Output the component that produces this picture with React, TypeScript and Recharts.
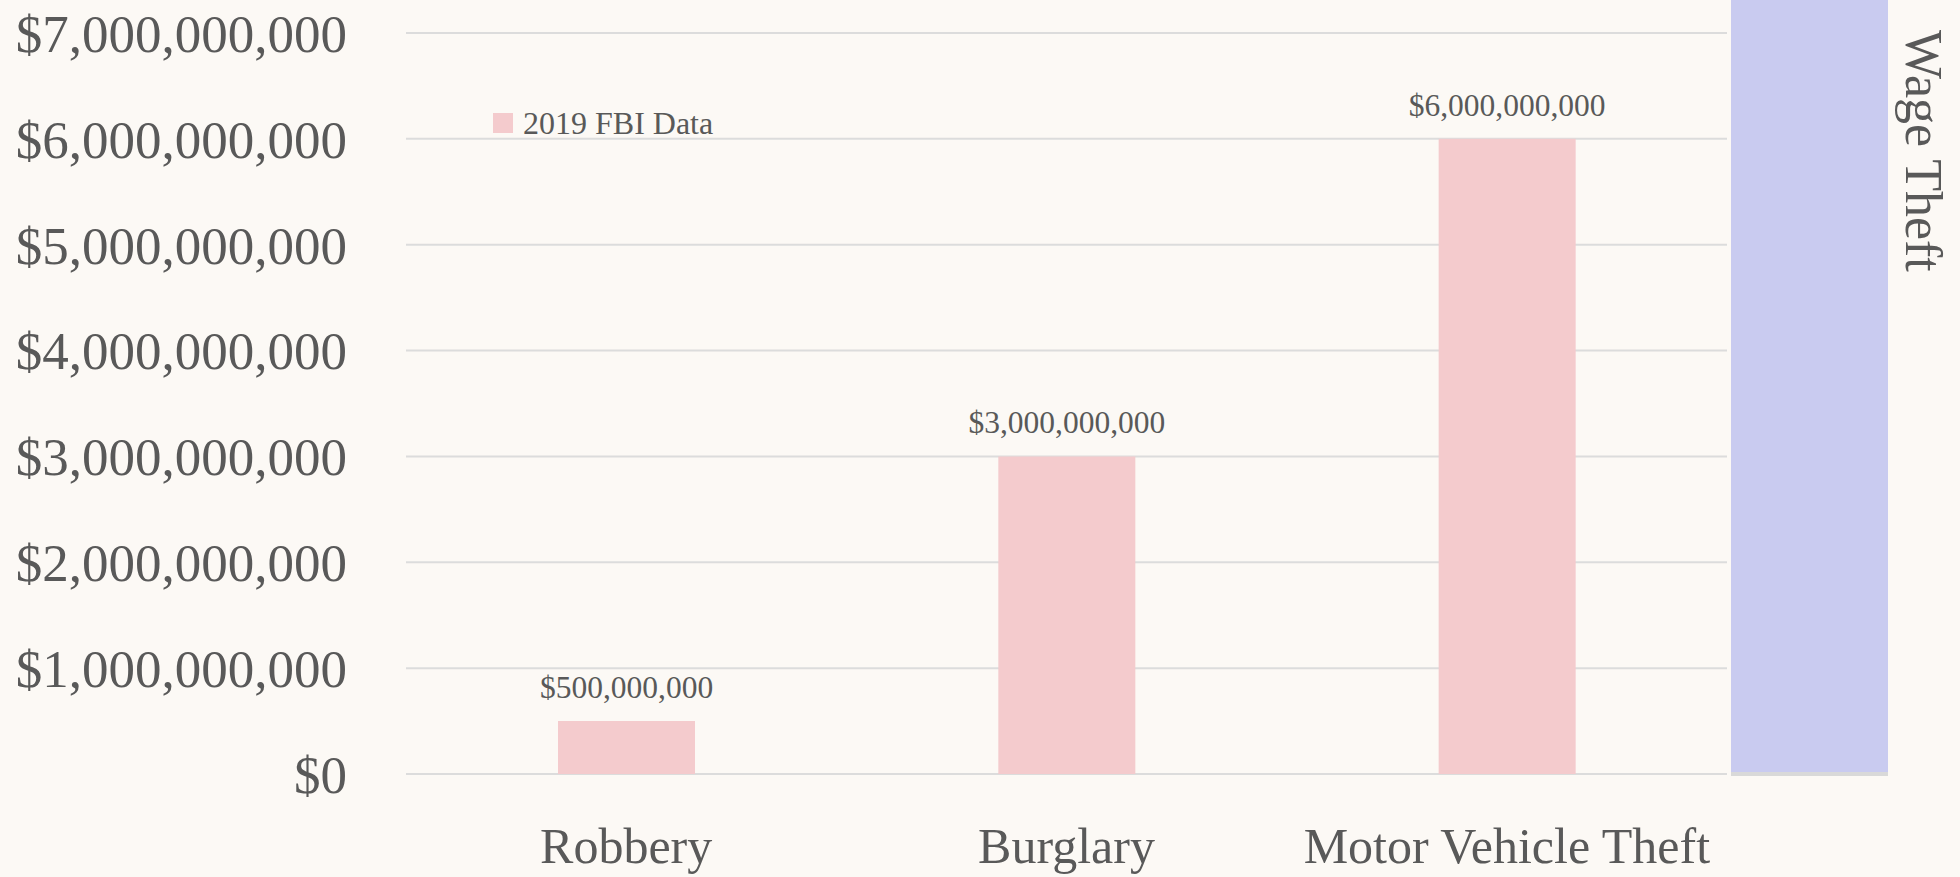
import React from 'react';
import { BarChart, Bar, XAxis, YAxis, CartesianGrid, Legend, LabelList } from 'recharts';

// ---- data ----
const categories = ['Robbery', 'Burglary', 'Motor Vehicle Theft'];
const fbiValues = [500000000, 3000000000, 6000000000];
const seriesName = '2019 FBI Data';
const yTicks = [0, 1000000000, 2000000000, 3000000000, 4000000000, 5000000000, 6000000000, 7000000000];
const wageCategories = ['Wage Theft'];
const wageValues = [15000000000];

const fbiData = categories.map((c, i) => ({ category: c, value: fbiValues[i] }));
const wageData = wageCategories.map((c, i) => ({ category: c, value: wageValues[i] }));

// ---- style ----
const FONT = '"Liberation Serif", "Times New Roman", serif';
const TEXT = '#595959';
const PINK = '#f4cbcd';
const BLUE = '#c9cbf0';
const BG = '#fcf9f5';
const GRID = '#dcdcdc';

const fmt = (v: any) => {
  const n = Math.round(Number(v));
  const s = String(n).replace(/\B(?=(\d{3})+(?!\d))/g, ',');
  return '$' + s;
};

const renderLegend = (props: any) => {
  const { payload = [] } = props;
  return (
    <div style={{ display: 'flex', flexDirection: 'column' }}>
      {payload.map((p: any) => (
        <div key={p.value} style={{ display: 'flex', alignItems: 'center' }}>
          <span style={{ width: 20, height: 20, background: p.color, marginRight: 10, display: 'inline-block' }} />
          <span style={{ fontFamily: FONT, fontSize: 32, color: TEXT, lineHeight: '30px', whiteSpace: 'nowrap' }}>{p.value}</span>
        </div>
      ))}
    </div>
  );
};

const WageLabel = (props: any) => {
  const vb = props.viewBox || { x: 0, y: 0 };
  const x = vb.x + 18;
  const y = vb.y + 103;
  return (
    <text x={x} y={y} transform={`rotate(90 ${x} ${y})`} fill={TEXT} fontSize={52} fontFamily={FONT}>
      {wageCategories[0]}
    </text>
  );
};

export default function App() {
  return (
    <div style={{ position: 'fixed', left: 0, top: 0, width: 1960, height: 877, overflow: 'hidden', background: BG }}>
      <div style={{ position: 'absolute', left: 0, top: 0 }}>
        <BarChart width={1727} height={877} data={fbiData} margin={{ top: 33, right: 0, bottom: 0, left: 0 }} barSize={137}>
          <CartesianGrid vertical={false} stroke={GRID} strokeWidth={2} />
          <XAxis
            dataKey="category"
            axisLine={false}
            tickLine={false}
            tickSize={0}
            tickMargin={53}
            height={103}
            interval={0}
            tick={{ fill: TEXT, fontSize: 50, fontFamily: FONT }}
          />
          <YAxis
            domain={[0, 7000000000]}
            ticks={yTicks}
            tickFormatter={fmt}
            axisLine={false}
            tickLine={false}
            tickSize={0}
            tickMargin={59}
            width={406}
            interval={0}
            tick={{ fill: TEXT, fontSize: 53, fontFamily: FONT }}
          />
          <Legend
            content={renderLegend}
            layout="vertical"
            align="center"
            verticalAlign="middle"
            wrapperStyle={{ top: 108, left: 493, width: 'auto', height: 'auto' }}
          />
          <Bar dataKey="value" name={seriesName} fill={PINK} isAnimationActive={false}>
            <LabelList dataKey="value" position="top" offset={23} formatter={fmt} fill={TEXT} fontSize={31.5} fontFamily={FONT} />
          </Bar>
        </BarChart>
      </div>
      <div style={{ position: 'absolute', left: 1731, top: -73 }}>
        <BarChart width={229} height={950} data={wageData} margin={{ top: 0, right: 0, bottom: 0, left: 0 }} barCategoryGap={0}>
          <XAxis dataKey="category" height={103} tick={false} tickLine={false} axisLine={{ stroke: '#d9d9d9', strokeWidth: 4 }} />
          <YAxis
            orientation="right"
            domain={[0, 8000000000]}
            allowDataOverflow
            width={72}
            tick={false}
            tickLine={false}
            axisLine={false}
            label={<WageLabel />}
          />
          <Bar dataKey="value" name="Wage Theft" fill={BLUE} isAnimationActive={false} />
        </BarChart>
      </div>
    </div>
  );
}
